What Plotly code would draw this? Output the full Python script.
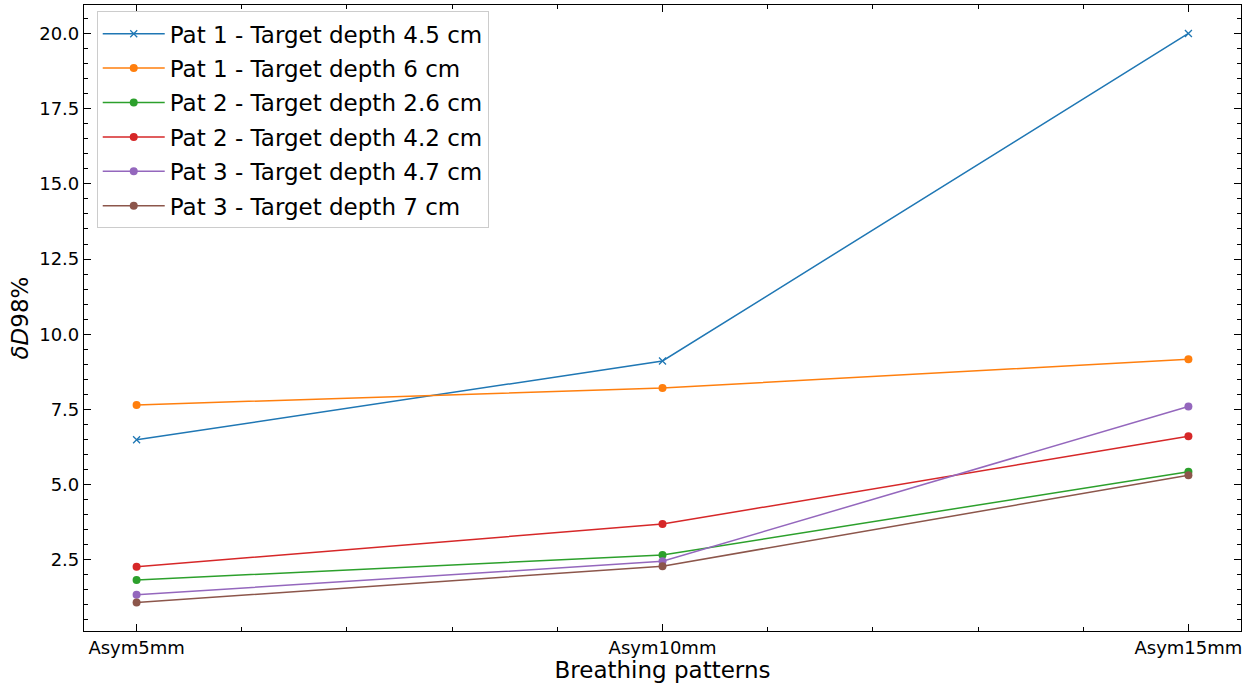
import plotly.graph_objects as go

# Breathing patterns along the x axis
categories = ["Asym5mm", "Asym10mm", "Asym15mm"]

# δD98% per patient / target depth
pat1_45 = [6.49, 9.11, 20.0]
pat1_6 = [7.65, 8.21, 9.17]
pat2_26 = [1.83, 2.66, 5.43]
pat2_42 = [2.27, 3.69, 6.61]
pat3_47 = [1.34, 2.45, 7.60]
pat3_7 = [1.08, 2.29, 5.31]

series = [
    ("Pat 1 - Target depth 4.5 cm", pat1_45, "#1f77b4", "x-thin"),
    ("Pat 1 - Target depth 6 cm", pat1_6, "#ff7f0e", "circle"),
    ("Pat 2 - Target depth 2.6 cm", pat2_26, "#2ca02c", "circle"),
    ("Pat 2 - Target depth 4.2 cm", pat2_42, "#d62728", "circle"),
    ("Pat 3 - Target depth 4.7 cm", pat3_47, "#9467bd", "circle"),
    ("Pat 3 - Target depth 7 cm", pat3_7, "#8c564b", "circle"),
]

xpos = list(range(len(categories)))

fig = go.Figure()
for i, (name, vals, color, sym) in enumerate(series):
    marker = dict(symbol=sym, size=8 if sym == "circle" else 7, color=color)
    if sym == "x-thin":
        marker["line"] = dict(color=color, width=1.3)
    fig.add_trace(go.Scatter(
        x=xpos, y=vals, name=name, mode="lines+markers",
        line=dict(color=color, width=1.5), marker=marker,
        legendgroup=f"g{i}",
    ))

font = "DejaVu Sans"
axis_common = dict(
    showline=True, linecolor="black", linewidth=1.2, mirror="ticks",
    ticks="inside", ticklen=7, tickwidth=1, tickcolor="black",
    showgrid=False, zeroline=False,
    tickfont=dict(family=font, size=18, color="black"),
)

fig.update_xaxes(
    **axis_common,
    range=[-0.1, 2.1], tickvals=xpos, ticktext=categories,
    minor=dict(dtick=0.2, tick0=0, ticks="inside", ticklen=4, tickwidth=1, tickcolor="black"),
    title=dict(text="Breathing patterns", font=dict(family=font, size=23, color="black"), standoff=3),
)
fig.update_yaxes(
    **axis_common,
    range=[0.134, 20.946], tick0=0, dtick=2.5, tickformat=".1f",
    minor=dict(dtick=0.5, tick0=0, ticks="inside", ticklen=4, tickwidth=1, tickcolor="black"),
    title=dict(text="<i>δD</i>98%", font=dict(family=font, size=23, color="black"), standoff=4),
)

fig.update_layout(
    width=1253, height=683,
    margin=dict(l=84, r=12, t=5, b=52),
    plot_bgcolor="white", paper_bgcolor="white",
    font=dict(family=font, color="black"),
    legend=dict(
        x=0.011, y=0.99, xanchor="left", yanchor="top",
        bgcolor="rgba(255,255,255,0.8)", bordercolor="#cccccc", borderwidth=1,
        font=dict(family=font, size=23, color="black"),
        tracegroupgap=1.5, itemwidth=62,
    ),
)

fig.write_html("out.html")
